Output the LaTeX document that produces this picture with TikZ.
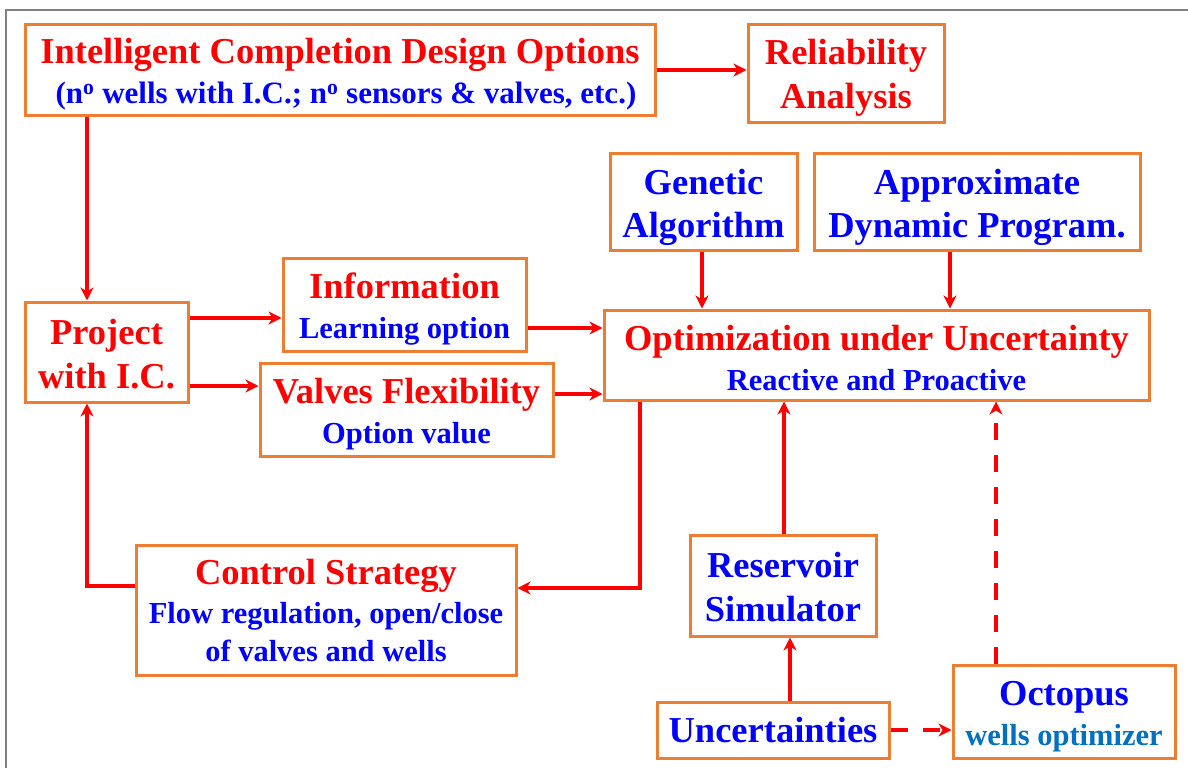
\documentclass[tikz,border=0pt]{standalone}
\usepackage{fontspec}
\setmainfont{Liberation Serif}
\usetikzlibrary{arrows.meta}

\definecolor{boxorange}{RGB}{237,125,49}
\definecolor{linered}{RGB}{255,0,0}
\definecolor{txtblue}{RGB}{0,0,255}
\definecolor{octblue}{RGB}{0,112,192}
\definecolor{framegray}{RGB}{128,128,128}

\newcommand{\hd}[1]{\textcolor{linered}{#1}}
\newcommand{\bl}[1]{\textcolor{txtblue}{#1}}
\newcommand{\subt}[2][txtblue]{{\color{#1}\fontsize{30.5}{40}\selectfont #2}}
% invisible strut that lowers the text block inside its box
\newcommand{\dn}[1]{\rule{0pt}{#1pt}}

\tikzset{
  box/.style={draw=boxorange, line width=3pt, fill=white, inner sep=0pt,
    align=center, font=\bfseries\fontsize{36.5}{40}\selectfont},
  arr/.style={draw=linered, line width=4pt,
    -{Stealth[length=13pt,width=13pt,inset=4pt]}},
  darr/.style={arr, dash pattern=on 17pt off 15pt},
}

\begin{document}
\begin{tikzpicture}[x=1pt,y=-1pt]
  \useasboundingbox (0,0) rectangle (1188,768);

  % page frame
  \draw[framegray, line width=2pt] (6,768) -- (6,10) -- (1188,10);

  % boxes
  \node[box, minimum width=630pt, minimum height=90pt] (icd) at (340,70)
    {\dn{33}\hd{Intelligent Completion Design Options}\\
     \hspace*{12pt}{\color{txtblue}\fontsize{31}{40}\selectfont (n\textsuperscript{o} wells with I.C.; n\textsuperscript{o} sensors \& valves, etc.)}};
  \node[box, minimum width=196pt, minimum height=97pt,
        font=\bfseries\fontsize{36.5}{44}\selectfont] (rel) at (846,73.5)
    {\dn{33}\hd{Reliability}\\\hd{Analysis}};
  \node[box, minimum width=187pt, minimum height=97pt,
        font=\bfseries\fontsize{36.5}{43}\selectfont] (gen) at (703.5,201.5)
    {\dn{37}\bl{Genetic}\\\bl{Algorithm}};
  \node[box, minimum width=326pt, minimum height=97pt,
        font=\bfseries\fontsize{36.5}{43}\selectfont] (adp) at (977,201.5)
    {\dn{37}\bl{Approximate}\\\bl{Dynamic Program.}};
  \node[box, minimum width=545pt, minimum height=90pt] (opt) at (876.5,355)
    {\dn{31}\hd{Optimization under Uncertainty}\\\subt{Reactive and Proactive}};
  \node[box, minimum width=163pt, minimum height=100pt,
        font=\bfseries\fontsize{36.5}{44}\selectfont] (proj) at (106.5,352)
    {\dn{29}\hd{Project}\\\hd{with I.C.}};
  \node[box, minimum width=243pt, minimum height=93pt] (info) at (404.5,304.5)
    {\dn{35}\hd{Information}\\\subt{Learning option}};
  \node[box, minimum width=293pt, minimum height=93pt] (valv) at (406.5,409.5)
    {\dn{35}\hd{Valves Flexibility}\\\subt{Option value}};
  \node[box, minimum width=380pt, minimum height=130pt,
        font=\bfseries\fontsize{36.5}{38.5}\selectfont] (ctrl) at (326,610)
    {\dn{27}\hd{Control Strategy}\\\subt{Flow regulation, open/close}\\\subt{of valves and wells}};
  \node[box, minimum width=186pt, minimum height=101pt,
        font=\bfseries\fontsize{36.5}{44}\selectfont] (res) at (783,585.5)
    {\dn{29}\bl{Reservoir}\\\bl{Simulator}};
  \node[box, minimum width=232pt, minimum height=56pt] (unc) at (773,730)
    {\bl{Uncertainties}};
  \node[box, minimum width=222pt, minimum height=93pt] (oct) at (1064,711.5)
    {\dn{35}\bl{Octopus}\\\subt[octblue]{wells optimizer}};

  % connector guide positions
  \coordinate (lx) at (87,0);
  \coordinate (xg) at (702,0);
  \coordinate (xa) at (950,0);
  \coordinate (xo) at (640,0);
  \coordinate (xr) at (784,0);
  \coordinate (xu) at (790,0);
  \coordinate (xd) at (996,0);
  \coordinate (ya) at (0,318);
  \coordinate (yb) at (0,386);
  \coordinate (yc) at (0,328);
  \coordinate (yd) at (0,394);
  \coordinate (ye) at (0,588);
  \coordinate (yf) at (0,586);

  % connectors
  \draw[arr] (icd.east) -- (rel.west |- icd.east);
  \draw[arr] (icd.south -| lx) -- (proj.north -| lx);
  \draw[arr] (proj.east |- ya) -- (info.west |- ya);
  \draw[arr] (proj.east |- yb) -- (valv.west |- yb);
  \draw[arr] (info.east |- yc) -- (opt.west |- yc);
  \draw[arr] (valv.east |- yd) -- (opt.west |- yd);
  \draw[arr] (gen.south -| xg) -- (opt.north -| xg);
  \draw[arr] (adp.south -| xa) -- (opt.north -| xa);
  \draw[arr] (opt.south -| xo) |- (ctrl.east |- ye);
  \draw[arr] (ctrl.west |- yf) -| (proj.south -| lx);
  \draw[arr] (res.north -| xr) -- (opt.south -| xr);
  \draw[arr] (unc.north -| xu) -- (res.south -| xu);
  \draw[darr] (unc.east) -- (oct.west |- unc.east);
  \draw[darr] (oct.north -| xd) -- (opt.south -| xd);
\end{tikzpicture}
\end{document}
